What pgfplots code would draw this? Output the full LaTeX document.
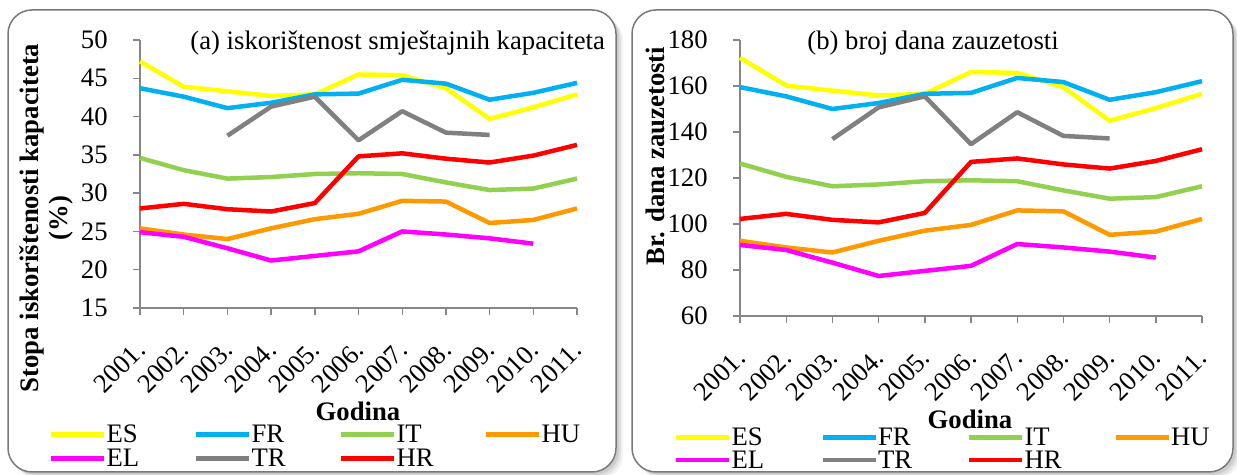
\documentclass[border=0pt]{standalone}
\usepackage{fontspec}
\setmainfont{Liberation Serif}
\usepackage{pgfplots}
\usepackage{pgfplotstable}
\pgfplotsset{compat=1.18}

\definecolor{cES}{RGB}{255,255,0}
\definecolor{cFR}{RGB}{0,176,240}
\definecolor{cIT}{RGB}{146,208,80}
\definecolor{cHU}{RGB}{255,153,0}
\definecolor{cEL}{RGB}{255,0,255}
\definecolor{cTR}{RGB}{128,128,128}
\definecolor{cHR}{RGB}{255,0,0}
\definecolor{axgray}{RGB}{134,134,134}
\definecolor{framegray}{RGB}{120,120,120}

\newcommand\fs{\fontsize{13.35}{14.5}\selectfont}

\pgfplotstableread{
x ES FR IT HU EL TR HR
0 47.2 43.7 34.6 25.4 24.9 nan 28.0
1 43.9 42.6 33.0 24.6 24.3 nan 28.6
2 43.3 41.1 31.9 24.0 22.8 37.5 27.9
3 42.7 41.8 32.1 25.4 21.2 41.3 27.6
4 42.9 42.9 32.5 26.6 21.8 42.6 28.7
5 45.5 43.0 32.6 27.3 22.4 36.9 34.8
6 45.4 44.8 32.5 29.0 25.0 40.7 35.2
7 43.7 44.3 31.4 28.9 24.6 37.9 34.5
8 39.7 42.2 30.4 26.1 24.1 37.6 34.0
9 41.2 43.1 30.6 26.5 23.4 nan 34.9
10 42.9 44.4 31.9 28.0 nan nan 36.3
}\dataA

\pgfplotstableread{
x ES FR IT HU EL TR HR
0 172.3 159.5 126.3 92.7 90.9 nan 102.2
1 160.2 155.5 120.5 89.8 88.7 nan 104.4
2 158.0 150.0 116.4 87.6 83.2 136.9 101.8
3 155.9 152.6 117.2 92.7 77.4 150.7 100.7
4 156.6 156.6 118.6 97.1 79.6 155.5 104.8
5 166.1 157.0 119.0 99.6 81.8 134.7 127.0
6 165.7 163.5 118.6 105.9 91.3 148.6 128.5
7 159.5 161.7 114.6 105.5 89.8 138.3 125.9
8 144.9 154.0 111.0 95.3 88.0 137.2 124.1
9 150.4 157.3 111.7 96.7 85.4 nan 127.4
10 156.6 162.1 116.4 102.2 nan nan 132.5
}\dataB

\pgfplotsset{
  mystyle/.style={
    scale only axis,
    anchor=south west,
    clip=false,
    xmin=0, xmax=10,
    xtick={0,...,10},
    xticklabels={2001.,2002.,2003.,2004.,2005.,2006.,2007.,2008.,2009.,2010.,2011.},
    axis x line=bottom, axis y line=left,
    axis line style={draw=axgray, line width=0.7pt, -},
    tick style={draw=axgray, line width=0.7pt},
    tick align=outside,
    major tick length=3.5pt,
    /pgf/number format/assume math mode=true,
    tick label style={font=\fs},
    xticklabel style={inner sep=0pt, xshift=-10.25pt, yshift=-26pt, rotate=45, anchor=center},
    yticklabel style={inner sep=0pt, anchor=east, xshift=-12.5pt},
    unbounded coords=jump,
    no markers,
    every axis plot/.append style={line width=2.25pt, line join=round},
    legend columns=4,
    legend cell align=left,
    legend image code/.code={\draw[##1, line width=2.25pt] (0pt,0.25pt) -- (26.5pt,0.25pt);},
    legend style={draw=none, fill=none, inner sep=0pt, outer sep=0pt, font=\fs,
      nodes={inner sep=0pt, text height=9pt, text depth=1pt, text width=38pt, align=left},
      /tikz/every odd column/.append style={column sep=0pt}},
  }
}

\begin{document}
\begin{tikzpicture}[x=0.5pt,y=0.5pt]
\path[use as bounding box] (0,0) rectangle (1237,475);
% frames with shadow
\foreach \d/\o in {7/0.05,5/0.07,3/0.09} {
  \fill[black,opacity=\o,rounded corners=12pt] (8+\d,3-\d) rectangle (616+\d,465-\d);
  \fill[black,opacity=\o,rounded corners=12pt] (632+\d,3-\d) rectangle (1233+\d,465-\d);
}
\draw[draw=framegray, line width=0.75pt, fill=white, rounded corners=12pt] (8,3) rectangle (616,465);
\draw[draw=framegray, line width=0.75pt, fill=white, rounded corners=12pt] (632,3) rectangle (1233,465);

\begin{axis}[mystyle,
  at={(70pt,83.5pt)}, width=218.5pt, height=134pt,
  ymin=15, ymax=50, ytick={15,20,...,50},
  legend style={at={(-0.2082,-0.4366)}, anchor=north west, row sep=2pt,
    /tikz/every even column/.append style={column sep=5.75pt}},
]
\addplot[cES] table[x=x,y=ES]{\dataA}; \addlegendentry{ES}
\addplot[cFR] table[x=x,y=FR]{\dataA}; \addlegendentry{FR}
\addplot[cIT] table[x=x,y=IT]{\dataA}; \addlegendentry{IT}
\addplot[cHU] table[x=x,y=HU]{\dataA}; \addlegendentry{HU}
\addplot[cEL] table[x=x,y=EL]{\dataA}; \addlegendentry{EL}
\addplot[cTR] table[x=x,y=TR]{\dataA}; \addlegendentry{TR}
\addplot[cHR] table[x=x,y=HR]{\dataA}; \addlegendentry{HR}
\end{axis}

\begin{axis}[mystyle,
  at={(370pt,79.5pt)}, width=231pt, height=138pt,
  ymin=60, ymax=180, ytick={60,80,...,180},
  legend style={at={(-0.1428,-0.4058)}, anchor=north west, row sep=1.25pt,
    /tikz/every even column/.append style={column sep=6.5pt}},
]
\addplot[cES] table[x=x,y=ES]{\dataB}; \addlegendentry{ES}
\addplot[cFR] table[x=x,y=FR]{\dataB}; \addlegendentry{FR}
\addplot[cIT] table[x=x,y=IT]{\dataB}; \addlegendentry{IT}
\addplot[cHU] table[x=x,y=HU]{\dataB}; \addlegendentry{HU}
\addplot[cEL] table[x=x,y=EL]{\dataB}; \addlegendentry{EL}
\addplot[cTR] table[x=x,y=TR]{\dataB}; \addlegendentry{TR}
\addplot[cHR] table[x=x,y=HR]{\dataB}; \addlegendentry{HR}
\end{axis}

% titles and labels
\node[anchor=base west, font=\fs, inner sep=0pt] at (190,425) {(a) iskorištenost smještajnih kapaciteta};
\node[anchor=base west, font=\fs, inner sep=0pt] at (807,425) {(b) broj dana zauzetosti};
\node[font=\fs\bfseries, inner sep=0pt] at (358,64) {Godina};
\node[font=\fs\bfseries, inner sep=0pt] at (970,56) {Godina};
\node[font=\fs\bfseries, inner sep=0pt, rotate=90, align=center] at (46,257) {Stopa iskorištenosti kapaciteta\\(\%)};
\node[font=\fs\bfseries, inner sep=0pt, rotate=90] at (655,319) {Br. dana zauzetosti};
\end{tikzpicture}
\end{document}
